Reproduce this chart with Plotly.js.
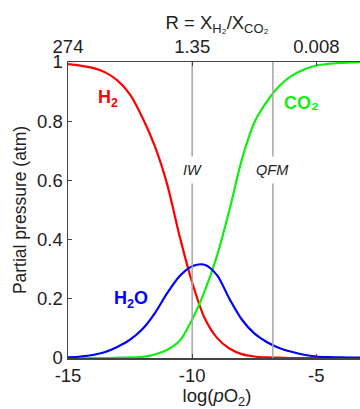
<!DOCTYPE html>
<html>
<head>
<meta charset="utf-8">
<script src="https://cdn.plot.ly/plotly-3.0.1.min.js"></script>
<style>
html,body{margin:0;padding:0;overflow:hidden;background:#fff;width:360px;height:409px;}
#chart{width:366px;height:409px;}
</style>
</head>
<body>
<div id="chart"></div>
<script>
// log(pO2) sample positions
const logPO2 = [-15,-14.5,-14,-13.5,-13,-12.5,-12,-11.5,-11,-10.5,-10,-9.5,-9,-8.5,-8,-7.5,-7,-6.5,-6,-5.5,-5,-4.5,-4,-3.5,-3];
// partial pressures (atm)
const pH2  = [0.993,0.988,0.980,0.965,0.937,0.890,0.812,0.715,0.585,0.410,0.255,0.135,0.068,0.032,0.013,0.005,0.002,0.001,0,0,0,0,0,0,0];
const pCO2 = [0,0,0,0,0.001,0.002,0.004,0.012,0.028,0.058,0.130,0.225,0.345,0.500,0.670,0.795,0.865,0.918,0.953,0.975,0.988,0.994,0.997,0.999,1.0];
const pH2O = [0.002,0.005,0.010,0.020,0.038,0.062,0.098,0.152,0.220,0.277,0.310,0.315,0.280,0.200,0.130,0.083,0.054,0.034,0.021,0.011,0.005,0.003,0.002,0.001,0.001];

// buffer reference lines
const bufferX = [-10, -6.75];
const bufferNames = ['IW', 'QFM'];

// axis ticks
const bottomTicks = [-15, -10, -5];
const topTickText = ['274', '1.35', '0.008'];
const yTicks = [0, 0.2, 0.4, 0.6, 0.8, 1];
const yTickText = ['0', '0.2', '0.4', '0.6', '0.8', '1'];

const FONT = 'Liberation Sans, Arial, sans-serif';

const traces = [];
bufferX.forEach((bx) => {
  traces.push({x:[bx,bx], y:[0,1], xaxis:'x2', yaxis:'y', mode:'lines',
    line:{color:'#a6a6a6', width:1.5}, hoverinfo:'skip', showlegend:false});
});
traces.push({x:logPO2, y:pH2, mode:'lines', line:{color:'#ff0000', width:2.2, shape:'spline', smoothing:0.8}, showlegend:false});
traces.push({x:logPO2, y:pCO2, mode:'lines', line:{color:'#11ee11', width:2.2, shape:'spline', smoothing:0.8}, showlegend:false});
traces.push({x:logPO2, y:pH2O, mode:'lines', line:{color:'#0000ff', width:2.2, shape:'spline', smoothing:0.8}, showlegend:false});

const annotations = [
  {x:-13.37, y:0.877, text:'<b>H<sub>2</sub></b>', font:{color:'#ff0000', size:18, family:FONT}, showarrow:false},
  {x:-5.58, y:0.863, text:'<b>CO₂</b>', font:{color:'#11ee11', size:18, family:FONT}, showarrow:false},
  {x:-12.45, y:0.196, text:'<b>H<sub>2</sub>O</b>', font:{color:'#0000ff', size:18, family:FONT}, showarrow:false},
];
bufferX.forEach((bx, i) => {
  annotations.push({x:bx, y:0.635, text:'<i>'+bufferNames[i]+'</i>', font:{color:'#222', size:14.5, family:FONT},
    showarrow:false, bgcolor:'#ffffff', borderpad:5});
});

const layout = {
  width:366, height:409,
  margin:{l:67.5, r:0, t:61.5, b:51},
  paper_bgcolor:'#fff', plot_bgcolor:'#fff',
  font:{family:FONT, size:18.5, color:'#222'},
  xaxis:{range:[-15,-3], tickvals:bottomTicks, ticktext:bottomTicks.map(String),
    ticks:'inside', ticklen:4, tickcolor:'#444', showline:true, linecolor:'#444', linewidth:1.5,
    showgrid:false, zeroline:false,
    title:{text:'log(<i>p</i>O<sub>2</sub>)', font:{size:18.5}, standoff:1}},
  xaxis2:{overlaying:'x', side:'top', range:[-15,-3], tickvals:bottomTicks, ticktext:topTickText,
    ticks:'inside', ticklen:4, tickcolor:'#444', showline:true, linecolor:'#444', linewidth:1.5,
    showgrid:false, zeroline:false,
    title:{text:'R = X<sub>H₂</sub>/X<sub>CO₂</sub>', font:{size:18.5}, standoff:0}},
  yaxis:{range:[0,1], tickvals:yTicks, ticktext:yTickText,
    ticks:'inside', ticklen:4, tickcolor:'#444', showline:true, linecolor:'#444', linewidth:1.5,
    showgrid:false, zeroline:false,
    title:{text:'Partial pressure (atm)', font:{size:17.5}, standoff:6}},
  annotations:annotations,
  showlegend:false
};

Plotly.newPlot('chart', traces, layout, {staticPlot:true, displayModeBar:false});
</script>
</body>
</html>
